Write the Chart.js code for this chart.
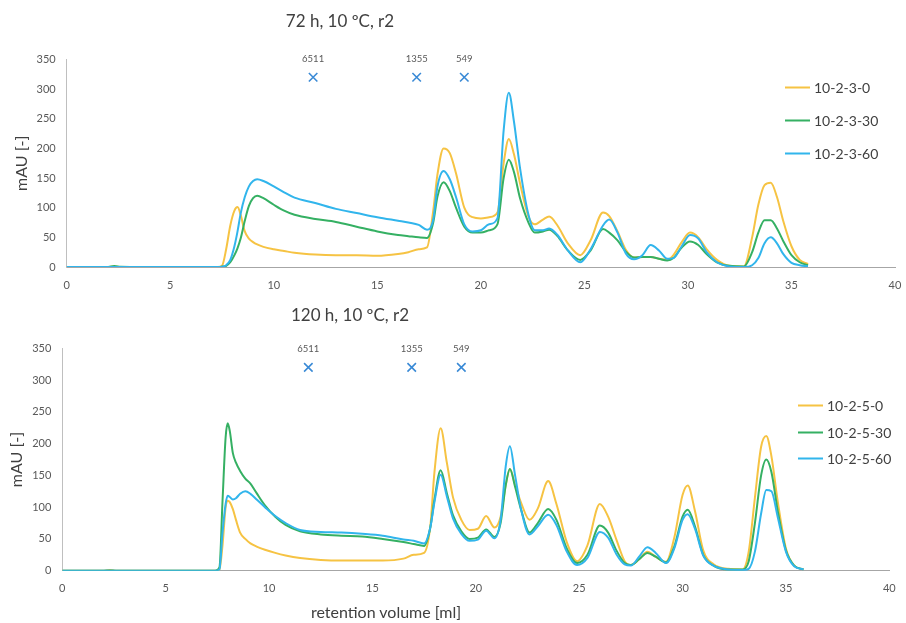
<!DOCTYPE html>
<html>
<head>
<meta charset="utf-8">
<title>SEC chromatograms, 10 ºC, r2</title>
<script src="https://cdn.jsdelivr.net/npm/chart.js@4.4.1/dist/chart.umd.min.js"></script>
<style>
  html, body { margin: 0; padding: 0; background: #ffffff; }
  #page { position: relative; width: 906px; height: 623px; overflow: hidden;
          font-family: Lato, "Open Sans", sans-serif; color: #404040; }
  #page canvas { position: absolute; left: 0; }
  .title { position: absolute; font-size: 17px; white-space: nowrap; transform: translate(-50%, -50%); }
  .axis-title { position: absolute; font-size: 16px; white-space: nowrap; transform: translate(-50%, -50%); }
  .legend-row { position: absolute; white-space: nowrap; font-size: 14px; display: flex; align-items: center;
                transform: translateY(-50%); }
  .legend-row .swatch { display: inline-block; width: 25px; height: 2px; margin-right: 4px; }
</style>
</head>
<body>
<div id="page">
  <canvas id="chartTop" width="906" height="300" style="top:0px"></canvas>
  <canvas id="chartBottom" width="906" height="323" style="top:300px"></canvas>
  <div class="title" style="left:340px; top:20px;">72 h, 10 ºC, r2</div>
  <div class="title" style="left:350px; top:314px;">120 h, 10 ºC, r2</div>
  <div class="axis-title" style="left:386px; top:611px;">retention volume [ml]</div>
  <div id="legendTop"></div>
  <div id="legendBottom"></div>
</div>
<script>
// ---- 72 h run: retention volume (ml) and absorbance (mAU) ----
const volumesTop = [0, 2, 2.3, 2.6, 5, 7.3, 7.5, 7.7, 7.9, 8.1,
  8.25, 8.4, 8.6, 8.8, 9.0, 9.2, 9.5, 10, 10.5, 11,
  12, 13, 14, 15, 16, 16.5, 17, 17.4, 17.7, 17.9,
  18.2, 18.5, 18.8, 19.2, 19.6, 20.0, 20.4, 20.8, 21.1, 21.35,
  21.6, 21.9, 22.3, 22.6, 23.0, 23.3, 23.7, 24.2, 24.8, 25.3,
  25.9, 26.2, 26.6, 27.0, 27.4, 27.8, 28.2, 28.6, 29.0, 29.3,
  29.7, 30.1, 30.5, 30.9, 31.4, 32.0, 32.7, 33.1, 33.4, 33.7,
  34.0, 34.3, 34.6, 35.0, 35.4, 35.8];

const top_10_2_3_0 = [0, 0, 1, 0, 0, 0, 2, 30, 70, 95,
  101, 88, 60, 48, 42, 38, 34, 30, 27, 24,
  21, 20, 20, 19, 22, 25, 30, 33, 95, 155,
  200, 192, 158, 100, 84, 82, 84, 92, 175, 216,
  190, 140, 85, 72, 80, 85, 70, 40, 20, 45,
  92, 86, 60, 29, 16, 17, 17, 14, 12, 20,
  42, 58, 50, 30, 12, 2, 1, 50, 105, 138,
  142, 118, 78, 35, 12, 5];

const top_10_2_3_30 = [0, 0, 1.5, 0.5, 0, 0, 0.5, 2, 8, 20,
  32, 48, 78, 103, 116, 120, 116, 105, 95, 88,
  81, 76, 68, 60, 54, 52, 50, 49, 75, 118,
  143, 128, 100, 68, 58, 58, 62, 72, 150, 181,
  160, 115, 75, 58, 60, 63, 52, 28, 12, 28,
  64, 58, 45, 26, 16, 17, 17, 14, 11, 15,
  33, 43, 37, 22, 8, 2, 1, 25, 58, 79,
  79, 65, 44, 20, 8, 3];

const top_10_2_3_60 = [0, 0, 0, 0, 0, 0, 0.5, 3, 12, 35,
  60, 90, 118, 136, 145, 148, 145, 136, 126, 117,
  108, 98, 91, 84, 78, 75, 71, 63, 80, 135,
  162, 148, 118, 72, 60, 62, 72, 82, 230, 294,
  245, 165, 88, 62, 62, 65, 54, 28, 8, 30,
  70, 80, 58, 23, 13, 20, 37, 28, 14, 15,
  35, 54, 48, 25, 8, 1, 0, 3, 15, 40,
  50, 40, 22, 7, 3, 1];

// ---- 120 h run ----
const volumesBottom = [0, 2, 2.3, 2.6, 5, 7.4, 7.6, 7.75, 7.9, 8.0,
  8.1, 8.25, 8.4, 8.6, 8.85, 9.1, 9.4, 9.8, 10.3, 10.8,
  11.5, 12.5, 13.5, 14.5, 15.5, 16.5, 17.0, 17.5, 17.8, 18.0,
  18.3, 18.6, 18.9, 19.3, 19.7, 20.1, 20.5, 20.9, 21.2, 21.45,
  21.65, 21.9, 22.2, 22.6, 23.0, 23.5, 23.9, 24.4, 24.9, 25.4,
  26.0, 26.4, 26.8, 27.2, 27.5, 27.9, 28.3, 28.7, 29.2, 29.6,
  30.0, 30.25, 30.6, 31.0, 31.5, 32.2, 32.9, 33.2, 33.5, 33.8,
  34.05, 34.3, 34.6, 35.0, 35.4, 35.85];

const bottom_10_2_5_0 = [0, 0, 1, 0, 0, 0, 2, 40, 100, 110,
  108, 97, 80, 60, 50, 43, 38, 33, 28, 24,
  20, 17, 16, 16, 16, 19, 25, 28, 70, 155,
  224, 170, 115, 80, 64, 66, 86, 68, 85, 135,
  160, 135, 106, 80, 98, 141, 105, 45, 15, 40,
  105, 85, 49, 15, 9, 18, 30, 22, 14, 52,
  119, 134, 94, 32, 10, 3, 2, 30, 115, 195,
  212, 180, 110, 35, 8, 2];

const bottom_10_2_5_30 = [0, 0, 0.5, 0, 0, 0, 5, 110, 210, 232,
  220, 185, 170, 157, 145, 137, 122, 103, 85, 72,
  62, 57, 55, 54, 50, 45, 42, 39, 68, 112,
  158, 122, 87, 62, 50, 52, 65, 53, 75, 135,
  160, 132, 95, 60, 75, 97, 80, 35, 12, 25,
  71, 60, 32, 12, 9, 18, 28, 22, 13, 38,
  85, 96, 70, 25, 8, 2, 2, 15, 75, 150,
  175, 155, 95, 32, 8, 2];

const bottom_10_2_5_60 = [0, 0, 0, 0, 0, 0, 2, 60, 105, 118,
  116, 112, 114, 121, 125, 121, 112, 100, 86, 75,
  64, 61, 60, 58, 55, 49, 47, 43, 68, 108,
  151, 117, 82, 58, 47, 49, 63, 51, 80, 165,
  196, 150, 95, 57, 70, 88, 72, 30, 9, 20,
  61, 52, 26, 10, 8, 22, 37, 28, 12, 35,
  80, 89, 66, 24, 8, 2, 1, 3, 30, 90,
  127, 125, 85, 30, 7, 2];

// ---- series names ----
const namesTop = ['10-2-3-0', '10-2-3-30', '10-2-3-60'];
const namesBottom = ['10-2-5-0', '10-2-5-30', '10-2-5-60'];

// ---- molecular-weight standards (elution volume, plotted height, label) ----
const standardVolumesTop = [11.9, 16.9, 19.2];
const standardVolumesBottom = [11.9, 16.9, 19.3];
const standardHeights = [320, 320, 320];
const standardLabels = ['6511', '1355', '549'];

// ---- axes ----
const volumeAxis = { min: 0, max: 40, step: 5 };
const absorbanceAxis = { min: 0, max: 350, step: 50 };

const COLORS = ['#F6C343', '#35B063', '#31B5EC'];
const MARKER_COLOR = '#3A8AD6';
const FONT = 'Lato, "Open Sans", sans-serif';
const TICK_COLOR = '#595959';

// writes each standard's label just above its cross
const standardLabelPlugin = {
  id: 'standardLabels',
  afterDatasetsDraw(chart) {
    const ctx = chart.ctx;
    chart.data.datasets.forEach((ds, i) => {
      if (!ds.standardLabels) return;
      const meta = chart.getDatasetMeta(i);
      ctx.save();
      ctx.font = '9.5px ' + FONT;
      ctx.fillStyle = TICK_COLOR;
      ctx.textAlign = 'center';
      ctx.textBaseline = 'middle';
      meta.data.forEach((pt, j) => ctx.fillText(ds.standardLabels[j], pt.x, pt.y - 18));
      ctx.restore();
    });
  }
};

function buildChart(canvasId, volumes, seriesList, names, stdVolumes, frame) {
  const datasets = seriesList.map((values, i) => ({
    label: names[i],
    data: volumes.map((v, j) => ({ x: v, y: values[j] })),
    borderColor: COLORS[i],
    backgroundColor: COLORS[i],
    borderWidth: 2,
    pointRadius: 0,
    pointHoverRadius: 0,
    fill: false,
    cubicInterpolationMode: 'monotone',
    order: 3 - i
  }));
  datasets.push({
    label: 'standards',
    data: stdVolumes.map((v, j) => ({ x: v, y: standardHeights[j] })),
    showLine: false,
    pointStyle: 'crossRot',
    pointRadius: 6,
    pointBorderWidth: 1.6,
    borderColor: MARKER_COLOR,
    backgroundColor: MARKER_COLOR,
    standardLabels: standardLabels,
    order: 0
  });

  return new Chart(document.getElementById(canvasId), {
    type: 'line',
    data: { datasets },
    plugins: [standardLabelPlugin],
    options: {
      responsive: false,
      animation: false,
      devicePixelRatio: 1,
      layout: { padding: frame.padding },
      plugins: { legend: { display: false }, tooltip: { enabled: false }, title: { display: false } },
      scales: {
        x: {
          type: 'linear',
          min: volumeAxis.min, max: volumeAxis.max,
          ticks: { stepSize: volumeAxis.step, padding: 11.4, color: TICK_COLOR, font: { family: FONT, size: 11 } },
          grid: { display: false, drawTicks: false },
          border: { display: true, color: '#a6a6a6', width: 1 },
          afterFit(scale) { scale.height = frame.xHeight; scale.paddingLeft = 0; scale.paddingRight = 0; }
        },
        y: {
          min: absorbanceAxis.min, max: absorbanceAxis.max,
          ticks: { stepSize: absorbanceAxis.step, padding: 11, color: TICK_COLOR, font: { family: FONT, size: 11 } },
          grid: { display: false, drawTicks: false },
          border: { display: true, color: '#bfbfbf', width: 1 },
          title: { display: true, text: 'mAU [-]', color: '#404040', padding: 0, font: { family: FONT, size: 16 } },
          afterFit(scale) { scale.width = frame.yWidth; scale.paddingTop = 0; scale.paddingBottom = 0; }
        }
      }
    }
  });
}

function buildLegend(containerId, names, left, rowCenters) {
  const box = document.getElementById(containerId);
  names.forEach((name, i) => {
    const row = document.createElement('div');
    row.className = 'legend-row';
    row.style.left = left + 'px';
    row.style.top = rowCenters[i] + 'px';
    const swatch = document.createElement('span');
    swatch.className = 'swatch';
    swatch.style.background = COLORS[i];
    const text = document.createElement('span');
    text.textContent = name;
    row.appendChild(swatch);
    row.appendChild(text);
    box.appendChild(row);
  });
}

buildChart('chartTop', volumesTop, [top_10_2_3_0, top_10_2_3_30, top_10_2_3_60], namesTop, standardVolumesTop,
  { padding: { left: 12.7, right: 11, top: 59.5, bottom: 0 }, yWidth: 54, xHeight: 33 });
buildChart('chartBottom', volumesBottom, [bottom_10_2_5_0, bottom_10_2_5_30, bottom_10_2_5_60], namesBottom, standardVolumesBottom,
  { padding: { left: 7.7, right: 16.7, top: 48.3, bottom: 0 }, yWidth: 54.6, xHeight: 52.3 });

buildLegend('legendTop', namesTop, 785, [87, 120, 153]);
buildLegend('legendBottom', namesBottom, 798, [405, 432, 458]);
</script>
</body>
</html>
